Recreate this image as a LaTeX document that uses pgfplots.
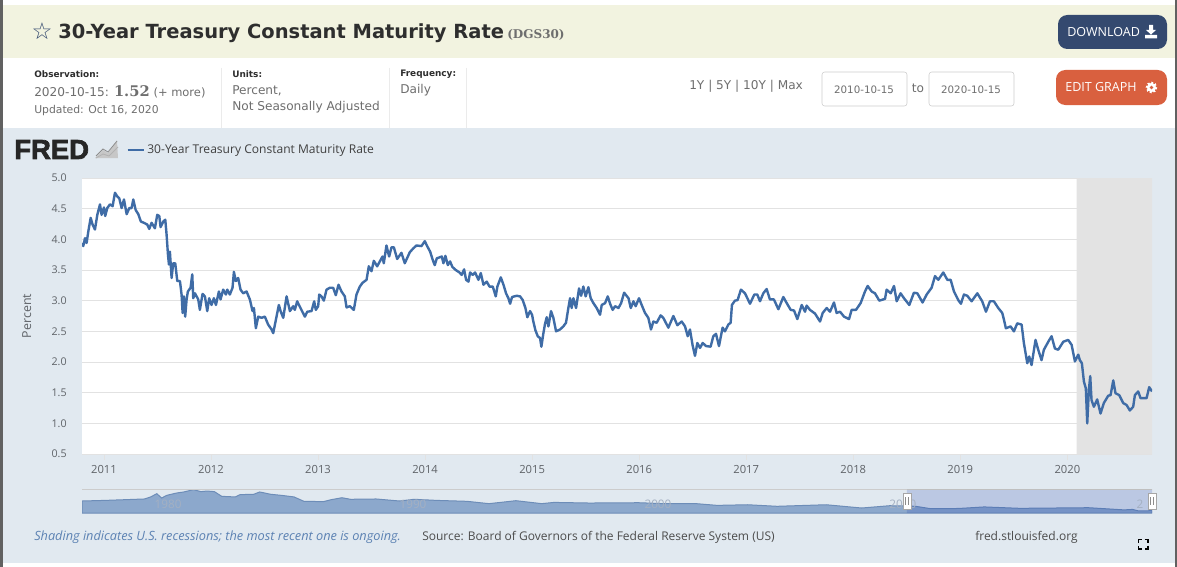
\documentclass[border=0pt]{standalone}
\usepackage{fontspec}
\usepackage{pgfplots}
\usepackage{pgfplotstable}
\pgfplotsset{compat=1.18}
\setmainfont{Open Sans}
\newfontfamily\djv{DejaVu Sans}
\newfontfamily\djsf{DejaVu Serif}
\newfontfamily\fredfont[UprightFont=* Bold,FakeBold=2.5]{Liberation Sans}
\definecolor{band}{HTML}{F2F3E0}
\definecolor{panel}{HTML}{E1E9F0}
\definecolor{series}{HTML}{3F6CA6}
\definecolor{tickc}{HTML}{5F6368}
\definecolor{gridc}{HTML}{E2E2E2}
\definecolor{meta}{HTML}{6E6E6E}
\definecolor{dark}{HTML}{2E2E2E}
\definecolor{dl}{HTML}{34496F}
\definecolor{edit}{HTML}{D9603F}
\definecolor{rec}{HTML}{E3E3E3}
\definecolor{navfill}{HTML}{8CA8CC}
\definecolor{navline}{HTML}{6D8DB8}
\definecolor{navmask}{HTML}{1337AC}
\definecolor{navtext}{HTML}{A4B0C2}
\pgfplotstableread{
year rate
2010.795 3.94
2010.807 3.89
2010.823 4.02
2010.838 3.94
2010.854 4.13
2010.876 4.35
2010.894 4.24
2010.916 4.16
2010.938 4.40
2010.963 4.57
2010.978 4.40
2011.000 4.52
2011.012 4.38
2011.031 4.51
2011.056 4.57
2011.081 4.54
2011.103 4.76
2011.124 4.70
2011.143 4.67
2011.165 4.51
2011.187 4.65
2011.212 4.41
2011.237 4.51
2011.258 4.51
2011.274 4.65
2011.296 4.48
2011.321 4.41
2011.345 4.29
2011.373 4.27
2011.405 4.24
2011.423 4.17
2011.445 4.27
2011.476 4.18
2011.498 4.40
2011.517 4.38
2011.529 4.20
2011.554 4.29
2011.573 4.32
2011.585 4.08
2011.598 3.75
2011.607 3.59
2011.616 3.80
2011.632 3.37
2011.647 3.61
2011.666 3.61
2011.685 3.32
2011.710 3.32
2011.725 3.10
2011.735 2.80
2011.747 3.07
2011.759 2.74
2011.772 3.02
2011.784 3.15
2011.809 3.21
2011.825 3.43
2011.834 3.04
2011.850 3.12
2011.881 3.02
2011.896 2.85
2011.921 3.11
2011.943 3.07
2011.965 2.83
2011.983 3.04
2012.005 2.93
2012.027 3.04
2012.046 2.93
2012.074 3.15
2012.089 3.02
2012.114 3.18
2012.139 3.10
2012.152 3.18
2012.176 3.10
2012.201 3.21
2012.214 3.47
2012.232 3.32
2012.254 3.37
2012.276 3.18
2012.301 3.12
2012.332 3.15
2012.363 3.02
2012.388 2.83
2012.401 2.88
2012.419 2.55
2012.441 2.74
2012.472 2.72
2012.503 2.74
2012.534 2.61
2012.566 2.53
2012.581 2.47
2012.612 2.74
2012.634 2.93
2012.650 2.83
2012.675 2.72
2012.706 3.07
2012.737 2.83
2012.768 2.91
2012.783 2.85
2012.805 2.99
2012.836 2.88
2012.877 2.74
2012.899 2.82
2012.939 2.83
2012.964 2.99
2012.979 2.85
2013.001 2.91
2013.011 3.10
2013.032 3.07
2013.054 3.00
2013.079 3.18
2013.110 3.21
2013.141 3.21
2013.166 3.09
2013.191 3.26
2013.219 3.15
2013.250 3.07
2013.266 2.89
2013.297 2.91
2013.334 2.85
2013.359 3.10
2013.390 3.23
2013.415 3.29
2013.453 3.34
2013.474 3.56
2013.499 3.48
2013.521 3.65
2013.552 3.56
2013.577 3.64
2013.602 3.72
2013.614 3.61
2013.639 3.90
2013.664 3.72
2013.686 3.87
2013.708 3.87
2013.739 3.68
2013.779 3.78
2013.810 3.61
2013.857 3.79
2013.888 3.85
2013.919 3.90
2013.966 3.89
2013.997 3.97
2014.022 3.88
2014.047 3.80
2014.072 3.66
2014.090 3.58
2014.109 3.69
2014.156 3.72
2014.171 3.61
2014.190 3.73
2014.212 3.58
2014.233 3.64
2014.255 3.55
2014.286 3.50
2014.321 3.46
2014.342 3.42
2014.364 3.51
2014.383 3.34
2014.405 3.31
2014.420 3.46
2014.445 3.42
2014.467 3.46
2014.498 3.34
2014.520 3.45
2014.545 3.26
2014.576 3.31
2014.601 3.23
2014.632 3.23
2014.660 3.07
2014.675 3.23
2014.707 3.38
2014.732 3.26
2014.756 3.12
2014.778 3.04
2014.794 2.95
2014.812 3.06
2014.856 3.08
2014.887 3.07
2014.912 3.01
2014.937 2.88
2014.955 2.73
2014.980 2.83
2014.999 2.77
2015.011 2.66
2015.030 2.52
2015.052 2.42
2015.074 2.39
2015.086 2.25
2015.105 2.47
2015.120 2.62
2015.136 2.73
2015.152 2.58
2015.176 2.83
2015.198 2.72
2015.223 2.50
2015.260 2.53
2015.291 2.58
2015.316 2.64
2015.338 2.88
2015.354 3.04
2015.369 2.88
2015.385 3.04
2015.410 2.88
2015.438 3.20
2015.457 3.08
2015.478 3.23
2015.500 3.07
2015.525 3.22
2015.547 3.04
2015.572 2.96
2015.603 2.88
2015.634 2.77
2015.650 2.93
2015.681 2.96
2015.706 3.07
2015.728 2.95
2015.752 2.85
2015.775 2.91
2015.806 2.88
2015.831 2.96
2015.859 3.13
2015.900 3.04
2015.921 2.88
2015.946 2.99
2015.967 2.91
2015.998 3.04
2016.023 2.93
2016.054 2.80
2016.085 2.72
2016.110 2.53
2016.132 2.66
2016.163 2.64
2016.200 2.76
2016.225 2.72
2016.272 2.56
2016.319 2.75
2016.356 2.60
2016.397 2.66
2016.428 2.58
2016.453 2.42
2016.474 2.53
2016.499 2.27
2016.521 2.10
2016.543 2.31
2016.568 2.23
2016.593 2.31
2016.624 2.26
2016.667 2.25
2016.692 2.42
2016.717 2.46
2016.745 2.26
2016.779 2.56
2016.801 2.50
2016.832 2.61
2016.854 2.64
2016.866 2.93
2016.894 3.00
2016.919 3.01
2016.950 3.18
2016.988 3.12
2017.035 2.95
2017.075 3.10
2017.103 3.10
2017.128 2.99
2017.159 3.12
2017.190 3.19
2017.221 3.02
2017.258 3.02
2017.300 2.86
2017.346 3.06
2017.378 2.96
2017.415 2.85
2017.446 2.84
2017.477 2.70
2017.518 2.93
2017.549 2.82
2017.564 2.92
2017.595 2.85
2017.642 2.79
2017.689 2.66
2017.714 2.80
2017.751 2.88
2017.782 2.82
2017.819 2.97
2017.844 2.80
2017.876 2.82
2017.913 2.74
2017.960 2.70
2017.984 2.85
2018.025 2.85
2018.068 2.96
2018.109 3.15
2018.134 3.24
2018.171 3.15
2018.202 3.12
2018.243 3.00
2018.296 3.03
2018.311 3.18
2018.349 3.12
2018.380 3.24
2018.405 2.99
2018.442 3.12
2018.473 3.04
2018.523 2.93
2018.566 3.13
2018.598 3.12
2018.647 2.97
2018.685 3.10
2018.731 3.21
2018.763 3.40
2018.794 3.34
2018.840 3.46
2018.878 3.34
2018.909 3.34
2018.940 3.15
2018.980 3.01
2019.005 2.95
2019.033 3.10
2019.064 3.08
2019.105 2.99
2019.158 3.12
2019.204 2.99
2019.239 2.82
2019.276 2.99
2019.313 2.99
2019.354 2.88
2019.391 2.80
2019.407 2.69
2019.425 2.55
2019.469 2.58
2019.500 2.50
2019.531 2.63
2019.572 2.61
2019.593 2.31
2019.625 1.98
2019.643 2.09
2019.665 1.95
2019.702 2.36
2019.727 2.20
2019.758 2.03
2019.780 2.20
2019.821 2.33
2019.852 2.42
2019.883 2.22
2019.914 2.20
2019.961 2.33
2020.007 2.36
2020.039 2.28
2020.070 2.01
2020.101 2.12
2020.116 2.03
2020.135 1.98
2020.154 1.68
2020.172 1.57
2020.185 1.00
2020.200 1.54
2020.213 1.77
2020.225 1.38
2020.247 1.27
2020.278 1.39
2020.309 1.16
2020.340 1.33
2020.381 1.45
2020.403 1.46
2020.428 1.70
2020.449 1.49
2020.484 1.46
2020.521 1.33
2020.552 1.30
2020.583 1.21
2020.614 1.27
2020.630 1.46
2020.661 1.52
2020.683 1.41
2020.739 1.41
2020.764 1.59
2020.790 1.52
}\dgs
\pgfplotstableread{
year rate
1977.15 7.7
1978.1 8.1
1979.7 9.0
1979.95 10.3
1980.2 12.4
1980.4 9.6
1980.6 11.3
1981.0 12.8
1981.3 13.5
1981.7 15.0
1982.0 13.7
1982.25 14.1
1982.55 13.7
1982.85 10.7
1983.4 10.3
1983.6 11.8
1984.15 12.0
1984.4 13.5
1984.85 12.0
1985.3 11.3
1985.8 10.3
1986.2 7.5
1987.0 7.3
1987.3 8.5
1987.75 9.8
1988.1 8.8
1989.15 9.0
1990.1 7.7
1990.7 8.8
1991.6 8.1
1992.85 7.5
1993.75 6.0
1994.85 7.9
1995.9 6.0
1996.4 6.8
1997.85 6.4
1999.85 6.6
2000.9 6.0
2002.2 6.0
2003.05 4.9
2004.3 5.3
2005.5 4.3
2007.5 5.3
2008.95 3.2
2010.1 4.7
2011.15 4.3
2011.75 2.8
2012.9 2.9
2013.95 3.9
2015.4 3.0
2018.2 3.4
2019.65 2.0
2020.0 2.3
2020.25 1.3
2020.79 1.5
}\navdata
\begin{document}
\begin{tikzpicture}[x=0.75pt,y=-0.75pt,font=\fontsize{9pt}{11pt}\selectfont]
\path[use as bounding box] (0,0) rectangle (1177,567);
\fill[white] (0,0) rectangle (1177,567);
\fill[band] (3,5) rectangle (1175,58);
\fill[panel] (3,128) rectangle (1175,563);
\fill[black!62] (0,0) rectangle (3,567);
\fill[black!62] (1175,0) rectangle (1177,567);
% header
\node[inner sep=0,text=dl] at (42,31.5) {\djv\fontsize{17.5pt}{15pt}\selectfont ☆};
\node[anchor=west,inner sep=0,text=dark] at (58,33) {\djv\bfseries\fontsize{14.6pt}{15pt}\selectfont 30-Year Treasury Constant Maturity Rate};
\node[anchor=west,inner sep=0,text=meta] at (507,34.5) {\djsf\bfseries\fontsize{9pt}{9pt}\selectfont (DGS30)};
\foreach \xx in {221,389,466}{\draw[black!8,line width=0.75pt] (\xx,68) -- (\xx,128);}
\node[anchor=west,inner sep=0,text=dark] at (34,74.5) {\djv\bfseries\fontsize{6.7pt}{7pt}\selectfont Observation:};
\node[anchor=west,inner sep=0,text=dark] at (232,74.5) {\djv\bfseries\fontsize{6.7pt}{7pt}\selectfont Units:};
\node[anchor=west,inner sep=0,text=dark] at (400,74.5) {\djv\bfseries\fontsize{6.7pt}{7pt}\selectfont Frequency:};
\node[anchor=west,inner sep=0,text=meta] at (34,92) {\djv\fontsize{9.1pt}{9pt}\selectfont 2020-10-15: {\djsf\bfseries\fontsize{11pt}{9pt}\selectfont 1.52} {\fontsize{8.6pt}{9pt}\selectfont (+ more)}};
\node[anchor=west,inner sep=0,text=meta] at (34,110.5) {\djv\fontsize{8.1pt}{9pt}\selectfont Updated: Oct 16, 2020};
\node[anchor=west,inner sep=0,text=meta] at (232,90.5) {\djv\fontsize{9.1pt}{9pt}\selectfont Percent,};
\node[anchor=west,inner sep=0,text=meta] at (232,107) {\djv\fontsize{9.1pt}{9pt}\selectfont Not Seasonally Adjusted};
\node[anchor=west,inner sep=0,text=meta] at (400,90) {\djv\fontsize{9.1pt}{9pt}\selectfont Daily};
\node[anchor=west,inner sep=0,text=meta] at (689,86.5) {\djv\fontsize{9.1pt}{9pt}\selectfont 1Y | 5Y | 10Y | Max};
\draw[black!20,fill=white,rounded corners=2pt] (822,72) rectangle (907,106);
\draw[black!20,fill=white,rounded corners=2pt] (929,72) rectangle (1014,106);
\node[inner sep=0,text=meta] at (864,89.5) {\djv\fontsize{7.7pt}{8pt}\selectfont 2010-10-15};
\node[inner sep=0,text=meta] at (971,89.5) {\djv\fontsize{7.7pt}{8pt}\selectfont 2020-10-15};
\node[inner sep=0,text=meta] at (918,88.5) {\djv\fontsize{9.1pt}{9pt}\selectfont to};
\fill[dl,rounded corners=7pt] (1058,15) rectangle (1167,49);
\fill[edit,rounded corners=7pt] (1056,70) rectangle (1167,105);
\node[anchor=west,inner sep=0,text=white] at (1067,32.5) {\fontsize{9.4pt}{9pt}\selectfont DOWNLOAD};
\fill[white] (1145,35) rectangle (1157,38.5) (1149,30) -- (1149,25) -- (1153,25) -- (1153,30) -- (1156,30) -- (1151,34.5) -- (1146,30) -- cycle;
\node[anchor=west,inner sep=0,text=white] at (1065,87.5) {\fontsize{9.4pt}{9pt}\selectfont EDIT GRAPH};
\fill[white] (1151.5,87.5) circle[radius=4.6];
\draw[white,line width=1.3pt,dash pattern=on 1.4pt off 1.4pt] (1151.5,87.5) circle[radius=4.9];
\fill[edit] (1151.5,87.5) circle[radius=1.8];
% FRED logo
\node[anchor=west,inner sep=0,text=black!85] at (14,149.5) {\fredfont\fontsize{20.6pt}{19pt}\selectfont FRED};
\fill[black!22] (95,158) -- (103,150) -- (108,153) -- (117,141) -- (118,158) -- cycle;
\draw[black!45,line width=0.6pt] (96,156) -- (103,149) -- (108,152) -- (117,141);
\draw[black!30,line width=0.6pt] (96,158) -- (103,154) -- (109,156) -- (118,147);
% main chart
\begin{axis}[
  at={(61.5pt,-340.5pt)},anchor=south west,
  scale only axis,width=802.5pt,height=207pt,
  xmin=2010.795,xmax=2020.79,ymin=0.5,ymax=5,
  axis background/.style={fill=white},
  axis line style={draw=none},
  ytick={0.5,1,...,5},
  yticklabel style={/pgf/number format/fixed,/pgf/number format/fixed zerofill,/pgf/number format/precision=1,/pgf/number format/assume math mode=true,text=tickc,font=\fontsize{8pt}{9pt}\selectfont,xshift=-3.5pt},
  xtick={2011,2012,...,2020},
  xticklabels={2011,2012,2013,2014,2015,2016,2017,2018,2019,2020},
  xticklabel style={text=tickc,font=\fontsize{8.4pt}{9pt}\selectfont,yshift=-0.5pt},
  ytick style={draw=none},
  xtick style={draw=gridc,line width=0.6pt},
  tick align=outside,major tick length=4.5pt,
  xtick pos=bottom,ytick pos=left,
  ymajorgrids,grid style={draw=gridc,line width=0.75pt},
  ylabel={Percent},
  ylabel style={text=tickc,font=\fontsize{9.3pt}{9pt}\selectfont,at={(axis description cs:-0.043,0.5)},anchor=south},
  legend style={at={(axis description cs:0.0415,1.100)},anchor=west,draw=none,fill=none,inner sep=0pt,font=\fontsize{9.05pt}{9pt}\selectfont,text=black!75},
  legend cell align=left,
  legend image code/.code={\draw[#1,line width=1.5pt] (0pt,0pt) -- (12pt,0pt);},
]
\addplot[draw=none,fill=rec,forget plot] coordinates {(2020.086,0.5) (2020.79,0.5) (2020.79,5) (2020.086,5)} \closedcycle;
\addplot[series,line width=1.8pt,line join=round] table[x=year,y=rate] {\dgs};
\legend{30-Year Treasury Constant Maturity Rate}
\end{axis}
% navigator
\begin{axis}[
  at={(61.5pt,-384.75pt)},anchor=south west,
  scale only axis,width=802.5pt,height=18pt,
  xmin=1977.15,xmax=2020.79,ymin=0,ymax=15.4,
  axis line style={draw=none},
  ticks=none,
]
\addplot[draw=navline,fill=navfill,line width=0.75pt] table[x=year,y=rate] {\navdata} \closedcycle;
\addplot[draw=none,fill=navmask,fill opacity=0.18,forget plot] coordinates {(2010.79,0) (2020.79,0) (2020.79,15.4) (2010.79,15.4)} \closedcycle;
\addplot[draw=black!20,line width=0.75pt] coordinates {(1977.15,15.4) (2010.79,15.4)};
\addplot[draw=black!25,line width=1.5pt] coordinates {(2010.79,15.4) (2020.79,15.4)};
\node[text=navtext,font=\fontsize{8.8pt}{9pt}\selectfont] at (axis cs:1980.66,5.6) {1980};
\node[text=navtext,font=\fontsize{8.8pt}{9pt}\selectfont] at (axis cs:1990.65,5.6) {1990};
\node[text=navtext,font=\fontsize{8.8pt}{9pt}\selectfont] at (axis cs:2000.64,5.6) {2000};
\node[text=navtext,font=\fontsize{8.8pt}{9pt}\selectfont] at (axis cs:2010.63,5.6) {2010};
\node[text=navtext,font=\fontsize{8.8pt}{9pt}\selectfont] at (axis cs:2020.3,5.6) {2};
\end{axis}
% navigator handles
\foreach \hx in {907,1152}{
  \draw[black!35,fill=white,line width=0.5pt] (\hx-4,493) rectangle (\hx+4,509);
  \draw[black!45,line width=0.5pt] (\hx-1.2,497) -- (\hx-1.2,505) (\hx+1.2,497) -- (\hx+1.2,505);
}
% footer
\node[anchor=west,inner sep=0,text=series!85!white] at (34,537) {\itshape\fontsize{9.55pt}{9pt}\selectfont Shading indicates U.S. recessions; the most recent one is ongoing.};
\node[anchor=west,inner sep=0,text=black!70] at (422,537) {\fontsize{9pt}{9pt}\selectfont Source: Board of Governors of the Federal Reserve System (US)};
\node[anchor=west,inner sep=0,text=black!70] at (975,537) {\fontsize{9pt}{9pt}\selectfont fred.stlouisfed.org};
\draw[black,line width=1.4pt] (1138.5,543) -- (1138.5,539.5) -- (1142,539.5) (1144.5,539.5) -- (1148,539.5) -- (1148,543) (1148,545.5) -- (1148,549) -- (1144.5,549) (1142,549) -- (1138.5,549) -- (1138.5,545.5);
\end{tikzpicture}
\end{document}
